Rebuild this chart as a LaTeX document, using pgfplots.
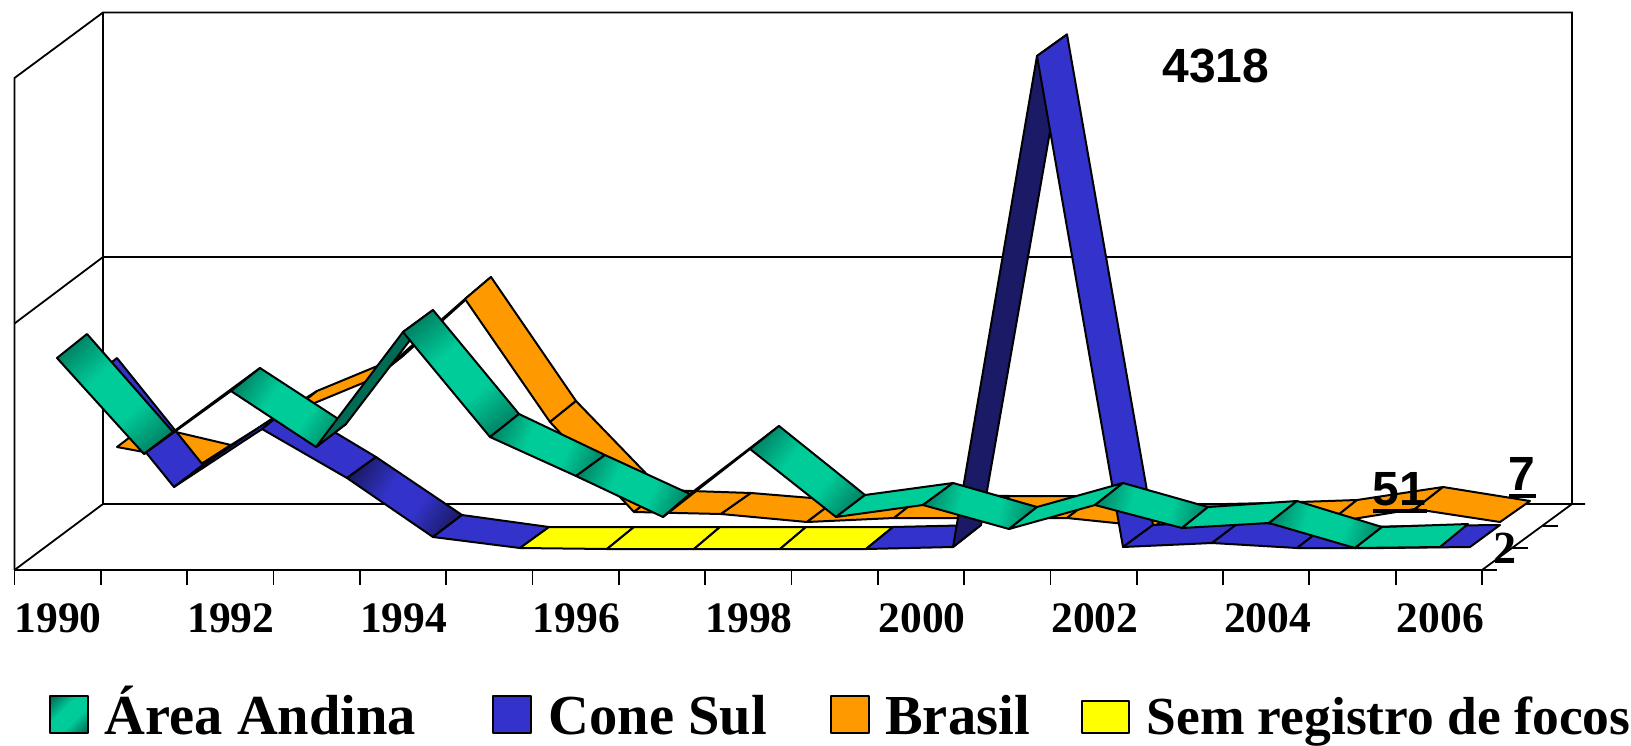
\documentclass[border=0pt]{standalone}
\usepackage{fontspec}
\setmainfont{Liberation Serif}
\newfontfamily\ab{Liberation Sans}
\usepackage{pgfplots}
\pgfplotsset{compat=1.18}
\definecolor{gbr}{HTML}{00CC99}
\definecolor{gdk}{HTML}{006B54}
\definecolor{bbr}{HTML}{3333CC}
\definecolor{bdk}{HTML}{1A1A66}
\definecolor{org}{HTML}{FF9900}
\definecolor{yel}{HTML}{FFFF00}
\pgfdeclareverticalshading{greenrib}{100bp}{color(0bp)=(gdk); color(16bp)=(gdk); color(40bp)=(gbr); color(60bp)=(gbr); color(84bp)=(gdk); color(100bp)=(gdk)}
\pgfdeclareverticalshading{bluerib}{100bp}{color(0bp)=(bdk); color(22bp)=(bdk); color(42bp)=(bbr); color(58bp)=(bbr); color(78bp)=(bdk); color(100bp)=(bdk)}
\pgfplotsset{
 edge/.style={draw=black,line width=2pt,line join=round},
 O/.style={edge,fill=org},
 Y/.style={edge,fill=yel},
 B/.style={edge,fill=bbr},
 BD/.style={edge,fill=bdk},
 G/.style={edge,fill=gbr},
 GD/.style={edge,fill=gdk},
 GS/.style={edge,shading=greenrib,shading angle=#1},
 BS/.style={edge,shading=bluerib,shading angle=#1},
 wall/.style={draw=black,line width=1.8pt},
}
\newcommand{\lab}[4]{\node[anchor=base,inner sep=0pt] at (axis cs:#1,#2) {\fontsize{#3}{#3}\selectfont\bfseries #4};}
\begin{document}
\begin{tikzpicture}
\begin{axis}[
 scale only axis, width=1467.5pt, height=558pt,
 xmin=14.5, xmax=1482, ymin=12, ymax=570, y dir=reverse, clip=false,
 hide y axis,
 axis x line=bottom,
 x axis line style={-,line width=1.8pt},
 xtick={58,230.8,403.6,576.4,749.2,922,1094.8,1267.6,1440.4},
 xticklabels={1990,1992,1994,1996,1998,2000,2002,2004,2006},
 minor xtick={14.5,100.8,187.2,273.5,359.8,446.1,532.4,618.8,705.1,791.4,877.7,964,1050.4,1136.7,1223,1309.3,1395.6,1482},
 major tick length=0pt, minor tick length=15pt, tick align=outside,
 minor tick style={line width=1.8pt,black},
 xticklabel style={font=\bfseries\fontsize{43.5}{43.5}\selectfont,yshift=-30pt},
]
\path (axis cs:0,0) rectangle (axis cs:1631,744);
% walls
\addplot[wall] coordinates {(14.5,570)(14.5,78)(103,12.5)(1572,12.5)(1572,504)};
\addplot[wall] coordinates {(103,12.5)(103,504)};
\addplot[wall] coordinates {(14.5,323.5)(103,257)(1572,257)};
\addplot[wall] coordinates {(14.5,570)(103,504)(1585,504)};
\addplot[wall] coordinates {(1482,570)(1572,504)};
\addplot[wall] coordinates {(1482,570)(1497,570)};
\addplot[wall] coordinates {(1513,548)(1528,548)};
\addplot[wall] coordinates {(1543,526)(1558,526)};
% Brasil
\addplot[O] coordinates {(117,447)(146,425)(231,445)(203,463)} --cycle;
\addplot[O] coordinates {(203,463)(231,445)(317,391)(288,414)} --cycle;
\addplot[O] coordinates {(288,414)(317,391)(404,355)(375,378)} --cycle;
\addplot[O] coordinates {(375,378)(404,355)(491,277)(465,299)} --cycle;
\addplot[O] coordinates {(465,299)(491,277)(576,401)(550,422)} --cycle;
\addplot[O] coordinates {(550,422)(576,401)(662,490)(634,512)} --cycle;
\addplot[O] coordinates {(634,512)(662,490)(751,493)(721,514)} --cycle;
\addplot[O] coordinates {(721,514)(751,493)(836,500)(807,522)} --cycle;
\addplot[O] coordinates {(807,522)(836,500)(923,495)(894,518)} --cycle;
\addplot[O] coordinates {(894,518)(923,495)(1010,496)(981,518)} --cycle;
\addplot[O] coordinates {(981,518)(1010,496)(1096,496)(1067,518)} --cycle;
\addplot[O] coordinates {(1067,518)(1096,496)(1183,505)(1154,527)} --cycle;
\addplot[O] coordinates {(1154,527)(1183,505)(1270,503)(1241,526)} --cycle;
\addplot[O] coordinates {(1241,526)(1270,503)(1357,500)(1328,523)} --cycle;
\addplot[O] coordinates {(1328,523)(1357,500)(1443,487)(1415,509)} --cycle;
\addplot[O] coordinates {(1415,509)(1443,487)(1530,501)(1500,522)} --cycle;
% Cone Sul
\addplot[B] coordinates {(88,381)(117,358)(203,465)(174,487)} --cycle;
\addplot[B] coordinates {(174,487)(203,465)(291,406)(262,429)} --cycle;
\addplot[B] coordinates {(262,429)(291,406)(376,457)(347,478)} --cycle;
\addplot[BS=56] coordinates {(347,478)(376,457)(462,515)(433,537)} --cycle;
\addplot[B] coordinates {(433,537)(462,515)(549,527)(520,548)} --cycle;
\addplot[Y] coordinates {(520,548)(549,527)(634,527)(607,549)} --cycle;
\addplot[Y] coordinates {(607,549)(634,527)(720,527)(694,549)} --cycle;
\addplot[Y] coordinates {(694,549)(720,527)(806,527)(780,549)} --cycle;
\addplot[Y] coordinates {(780,549)(806,527)(893,527)(866,549)} --cycle;
\addplot[B] coordinates {(866,549)(893,527)(981,525)(953,547)} --cycle;
\addplot[BD] coordinates {(953,547)(981,525)(1067,34.5)(1037,56)} --cycle;
\addplot[B] coordinates {(1037,56)(1067,34.5)(1153,525)(1123,547)} --cycle;
\addplot[B] coordinates {(1123,547)(1153,525)(1241,521)(1212,543)} --cycle;
\addplot[B] coordinates {(1212,543)(1241,521)(1323,528)(1297,548)} --cycle;
\addplot[B] coordinates {(1297,548)(1323,528)(1412,526)(1383,548)} --cycle;
\addplot[B] coordinates {(1383,548)(1412,526)(1500,525)(1470,547)} --cycle;
% Area Andina
\addplot[GS=42] coordinates {(57,358)(87,334)(173,432)(144,454)} --cycle;
\addplot[GD] coordinates {(144,454)(173,432)(260,368)(231,391)} --cycle;
\addplot[GS=57] coordinates {(231,391)(260,368)(346,424)(316,447)} --cycle;
\addplot[GD] coordinates {(316,447)(346,424)(433,310)(403,332)} --cycle;
\addplot[GS=40] coordinates {(403,332)(433,310)(519,414)(490,437)} --cycle;
\addplot[GS=66] coordinates {(490,437)(519,414)(605,455)(576,476)} --cycle;
\addplot[GS=65] coordinates {(576,476)(605,455)(690,494)(663,517)} --cycle;
\addplot[GD] coordinates {(663,517)(690,494)(779,426)(750,449)} --cycle;
\addplot[GS=52] coordinates {(750,449)(779,426)(865,495)(836,517)} --cycle;
\addplot[G] coordinates {(836,517)(865,495)(953,483)(923,505)} --cycle;
\addplot[GS=74] coordinates {(923,505)(953,483)(1037,507)(1009,529)} --cycle;
\addplot[G] coordinates {(1009,529)(1037,507)(1123,483)(1095,505)} --cycle;
\addplot[GS=75] coordinates {(1095,505)(1123,483)(1208,507)(1182,528)} --cycle;
\addplot[G] coordinates {(1182,528)(1208,507)(1297,501)(1269,523)} --cycle;
\addplot[GS=74] coordinates {(1269,523)(1297,501)(1382,527)(1355,548)} --cycle;
\addplot[G] coordinates {(1355,548)(1382,527)(1468,524)(1440,547)} --cycle;
% data labels
\node[anchor=base,inner sep=0pt] at (axis cs:1216,82) {\ab\fontsize{48}{48}\selectfont\bfseries 4318};
\node[anchor=base,inner sep=0pt] at (axis cs:1399,505) {\ab\fontsize{48}{48}\selectfont\bfseries 51};
\addplot[draw=black,line width=4.5pt] coordinates {(1373,511)(1427,511)};
\node[anchor=base,inner sep=0pt] at (axis cs:1522,490) {\ab\fontsize{48}{48}\selectfont\bfseries 7};
\addplot[draw=black,line width=4.5pt] coordinates {(1509,496)(1536,496)};
\lab{1505}{563}{46}{2}
% legend
\addplot[edge,shading=greenrib,shading angle=45] coordinates {(50,696)(88,696)(88,733)(50,733)} --cycle;
\addplot[edge,fill=bbr] coordinates {(493,696)(531,696)(531,733)(493,733)} --cycle;
\addplot[edge,fill=org] coordinates {(831,696)(869,696)(869,733)(831,733)} --cycle;
\addplot[edge,fill=yel] coordinates {(1082,701)(1129,701)(1129,733)(1082,733)} --cycle;
\lab{260.5}{734}{56.5}{Área Andina}
\lab{658}{734}{56.5}{Cone Sul}
\lab{957.5}{734}{56.5}{Brasil}
\lab{1388.5}{734}{53.5}{Sem registro de focos}
\end{axis}
\end{tikzpicture}
\end{document}
